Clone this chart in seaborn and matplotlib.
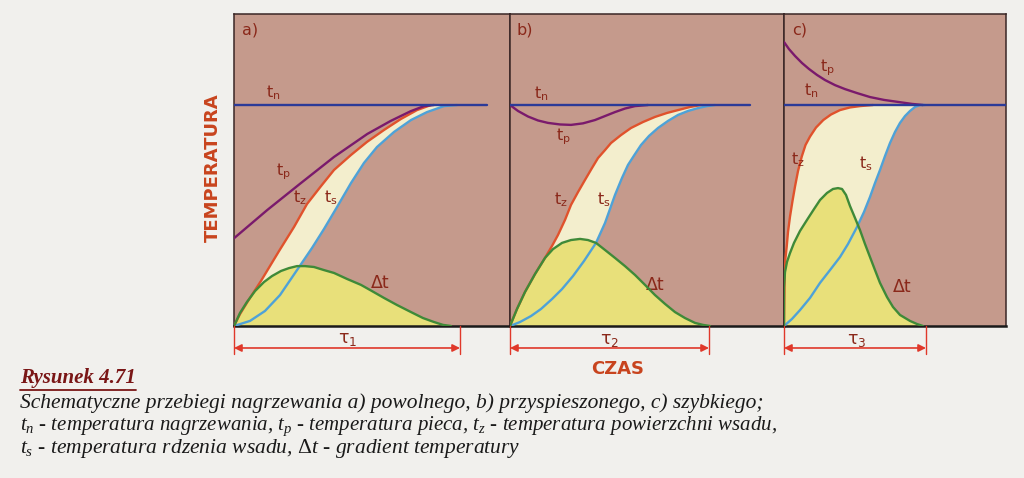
import numpy as np
import matplotlib
matplotlib.use("Agg")
import matplotlib.pyplot as plt
import seaborn as sns
import pandas as pd
from matplotlib.lines import Line2D

# ---------------- data (time in arbitrary units, temperature relative to t_n = 1) -------------
# panel a) slow heating
a_tn_time = [0.0, 25.3]
a_tn_temp = [1.0, 1.0]
a_tp_time = [0.0, 3.33, 6.67, 10.0, 13.33, 15.67, 17.67, 19.0, 20.0]
a_tp_temp = [0.397, 0.525, 0.646, 0.765, 0.869, 0.928, 0.972, 0.995, 1.0]
a_tz_time = [0.0, 0.6, 1.4, 2.7, 4.5, 6.0, 7.3, 8.7, 10.0, 11.7, 13.3, 15.0, 16.7, 18.3, 19.7]
a_tz_temp = [0.0, 0.054, 0.113, 0.204, 0.339, 0.448, 0.552, 0.633, 0.706, 0.774, 0.833, 0.887,
             0.937, 0.977, 1.0]
a_ts_time = [0.0, 1.6, 3.1, 4.6, 6.3, 7.8, 9.0, 10.3, 11.7, 13.0, 14.3, 16.0, 17.7, 19.3, 21.0, 22.3]
a_ts_temp = [0.0, 0.023, 0.068, 0.140, 0.253, 0.353, 0.439, 0.538, 0.647, 0.738, 0.810, 0.878,
             0.932, 0.968, 0.995, 1.0]
a_dt_time = [0.0, 0.6, 1.3, 2.1, 3.0, 3.8, 4.7, 5.5, 6.3, 7.1, 8.0, 9.0, 10.0, 11.3, 12.7, 13.8,
             15.0, 16.3, 17.7, 18.9, 20.0, 20.9, 21.7]
a_dt_temp = [0.0, 0.059, 0.109, 0.158, 0.199, 0.226, 0.249, 0.262, 0.271, 0.271, 0.267, 0.253,
             0.240, 0.213, 0.186, 0.158, 0.127, 0.095, 0.063, 0.036, 0.018, 0.005, 0.0]
a_tau = 22.6

# panel b) accelerated heating
b_tn_time = [0.0, 24.0]
b_tn_temp = [1.0, 1.0]
b_tp_time = [0.0, 0.8, 1.8, 2.8, 3.8, 5.0, 6.1, 7.3, 8.5, 9.5, 10.5, 11.5, 12.5, 13.8]
b_tp_temp = [1.0, 0.973, 0.948, 0.930, 0.919, 0.912, 0.910, 0.917, 0.932, 0.950, 0.968, 0.984,
             0.995, 1.0]
b_tz_time = [0.0, 0.7, 1.5, 2.5, 3.5, 4.2, 4.8, 5.5, 6.1, 6.8, 7.5, 8.2, 8.8, 9.5, 10.1, 11.1,
             12.1, 13.3, 14.5, 15.7, 16.8, 18.0, 19.1]
b_tz_temp = [0.0, 0.077, 0.154, 0.235, 0.308, 0.362, 0.412, 0.480, 0.548, 0.606, 0.661, 0.715,
             0.760, 0.796, 0.828, 0.864, 0.896, 0.923, 0.946, 0.964, 0.977, 0.991, 1.0]
b_ts_time = [0.0, 1.0, 2.1, 3.1, 4.2, 5.2, 6.3, 7.4, 8.6, 9.5, 10.5, 11.2, 11.8, 12.5, 13.1, 13.9,
             14.8, 15.8, 16.8, 17.8, 18.8, 19.7, 20.5]
b_ts_temp = [0.0, 0.018, 0.045, 0.077, 0.122, 0.167, 0.226, 0.294, 0.376, 0.466, 0.593, 0.670,
             0.729, 0.778, 0.819, 0.860, 0.896, 0.928, 0.955, 0.973, 0.986, 0.995, 1.0]
b_dt_time = [0.0, 0.7, 1.5, 2.5, 3.5, 4.3, 5.2, 6.1, 7.0, 7.8, 8.6, 9.5, 10.5, 11.5, 12.5, 13.5,
             14.5, 15.5, 16.5, 17.5, 18.5, 19.3, 20.0]
b_dt_temp = [0.0, 0.077, 0.154, 0.235, 0.308, 0.348, 0.376, 0.389, 0.394, 0.389, 0.376, 0.344,
             0.308, 0.271, 0.231, 0.186, 0.140, 0.100, 0.063, 0.036, 0.014, 0.005, 0.0]
b_tau = 19.9

# panel c) fast heating
c_tn_time = [0.0, 22.2]
c_tn_temp = [1.0, 1.0]
c_tp_time = [0.0, 0.5, 1.1, 1.8, 2.5, 3.3, 4.1, 5.1, 6.1, 7.3, 8.6, 10.0, 11.4, 12.8, 13.9]
c_tp_temp = [1.285, 1.253, 1.222, 1.190, 1.163, 1.136, 1.113, 1.090, 1.072, 1.054, 1.036, 1.023,
             1.014, 1.005, 1.0]
c_tz_time = [0.0, 0.03, 0.07, 0.15, 0.27, 0.4, 0.6, 0.85, 1.1, 1.4, 1.77, 2.15, 2.6, 3.2, 3.93,
             4.7, 5.6, 6.6, 7.6, 8.9]
c_tz_temp = [0.0, 0.118, 0.253, 0.308, 0.359, 0.425, 0.495, 0.566, 0.631, 0.701, 0.766, 0.819,
             0.857, 0.898, 0.932, 0.957, 0.977, 0.989, 0.995, 1.0]
c_ts_time = [0.0, 0.8, 1.6, 2.6, 3.6, 4.6, 5.6, 6.4, 7.3, 8.0, 8.6, 9.1, 9.6, 10.1, 10.6, 11.1,
             11.6, 12.1, 12.6, 13.1, 13.6, 14.1]
c_ts_temp = [0.0, 0.032, 0.072, 0.127, 0.195, 0.253, 0.312, 0.371, 0.448, 0.516, 0.584, 0.647,
             0.706, 0.769, 0.828, 0.878, 0.919, 0.950, 0.973, 0.991, 1.0, 1.0]
c_dt_time = [0.0, 0.0, 0.1, 0.3, 0.6, 1.0, 1.6, 2.3, 3.0, 3.6, 4.3, 4.9, 5.4, 5.8, 6.2, 6.6, 7.1,
             7.6, 8.1, 8.6, 9.1, 9.6, 10.3, 10.9, 11.6, 12.6, 13.3, 13.9]
c_dt_temp = [0.0, 0.176, 0.244, 0.290, 0.330, 0.376, 0.430, 0.480, 0.529, 0.570, 0.602, 0.620,
             0.624, 0.620, 0.593, 0.543, 0.489, 0.434, 0.371, 0.312, 0.253, 0.195, 0.131, 0.086,
             0.050, 0.023, 0.009, 0.0]
c_tau = 14.2

panel_names = ["a)", "b)", "c)"]
tau_labels = [r"$\mathregular{\tau_1}$", r"$\mathregular{\tau_2}$", r"$\mathregular{\tau_3}$"]
y_label = "TEMPERATURA"
x_label = "CZAS"
caption_title = "Rysunek 4.71"
caption_lines = [
    "Schematyczne przebiegi nagrzewania a) powolnego, b) przyspieszonego, c) szybkiego;",
    "$t_n$ - temperatura nagrzewania, $t_p$ - temperatura pieca, $t_z$ - temperatura powierzchni wsadu,",
    "$t_s$ - temperatura rdzenia wsadu, $\\mathit{\\Delta t}$ - gradient temperatury",
]

# ---------------- style ----------------
sns.set_theme(style="white")
plt.rcParams["font.family"] = ["DejaVu Sans"]
plt.rcParams["mathtext.fontset"] = "custom"
plt.rcParams["mathtext.rm"] = "Liberation Serif"
plt.rcParams["mathtext.it"] = "Liberation Serif:italic"
plt.rcParams["mathtext.bf"] = "Liberation Serif:bold"

PAGE = "#f1f0ed"
BG = "#c59a8c"
CREAM = "#f3eecd"
YELLOW = "#e8e07a"
C_TN = "#2b3a98"
C_TP = "#7a1a6c"
C_TZ = "#e0522c"
C_TS = "#4ea2d8"
C_DT = "#3f8a38"
TXT = "#8a281a"
RED = "#e0382a"
AXLAB = "#c8441e"

W, H = 1024, 478
fig = plt.figure(figsize=(W / 100, H / 100), dpi=100, facecolor=PAGE)

base_py, top_py = 326, 14
ymax = 1.4118

panels = [
    dict(left=234, width=276, xmax=27.6,
         tn=(a_tn_time, a_tn_temp), tp=(a_tp_time, a_tp_temp), tz=(a_tz_time, a_tz_temp),
         ts=(a_ts_time, a_ts_temp), dt=(a_dt_time, a_dt_temp), tau=a_tau,
         lab=dict(name=(0.8, 1.34), tn=(3.9, 1.058), tp=(4.9, 0.697), tz=(6.6, 0.579),
                  ts=(9.7, 0.579), dt=(14.6, 0.195), tau=(11.4, -0.06))),
    dict(left=510, width=274, xmax=27.4,
         tn=(b_tn_time, b_tn_temp), tp=(b_tp_time, b_tp_temp), tz=(b_tz_time, b_tz_temp),
         ts=(b_ts_time, b_ts_temp), dt=(b_dt_time, b_dt_temp), tau=b_tau,
         lab=dict(name=(0.7, 1.34), tn=(3.1, 1.05), tp=(5.3, 0.855), tz=(5.1, 0.57),
                  ts=(9.4, 0.57), dt=(14.5, 0.186), tau=(10.0, -0.063))),
    dict(left=784, width=222, xmax=22.2,
         tn=(c_tn_time, c_tn_temp), tp=(c_tp_time, c_tp_temp), tz=(c_tz_time, c_tz_temp),
         ts=(c_ts_time, c_ts_temp), dt=(c_dt_time, c_dt_temp), tau=c_tau,
         lab=dict(name=(0.8, 1.34), tn=(2.7, 1.063), tp=(4.3, 1.167), tz=(1.4, 0.751),
                  ts=(8.2, 0.733), dt=(11.8, 0.176), tau=(7.3, -0.063))),
]

def line(ax, xy, color, z):
    df = pd.DataFrame({"time": xy[0], "temp": xy[1]})
    sns.lineplot(data=df, x="time", y="temp", ax=ax, color=color, lw=1.7,
                 estimator=None, sort=False, zorder=z,
                 solid_joinstyle="round", solid_capstyle="round")

for i, p in enumerate(panels):
    ax = fig.add_axes([p["left"] / W, (H - base_py) / H, p["width"] / W, (base_py - top_py) / H])
    ax.set_facecolor(BG)
    ax.set_xlim(0, p["xmax"])
    ax.set_ylim(0, ymax)
    for s in ax.spines.values():
        s.set_color("#3a2626"); s.set_linewidth(1.1)
    ax.spines["bottom"].set_color("#1a1a1a"); ax.spines["bottom"].set_linewidth(1.8)

    tz_x, tz_y = np.asarray(p["tz"][0]), np.asarray(p["tz"][1])
    ts_x, ts_y = np.asarray(p["ts"][0]), np.asarray(p["ts"][1])
    ax.fill(np.concatenate([tz_x, ts_x[::-1]]), np.concatenate([tz_y, ts_y[::-1]]),
            color=CREAM, lw=0, zorder=1)
    ax.fill_between(p["dt"][0], p["dt"][1], 0, color=YELLOW, lw=0, zorder=2)

    line(ax, p["ts"], C_TS, 3)
    line(ax, p["tz"], C_TZ, 3)
    line(ax, p["dt"], C_DT, 4)
    line(ax, p["tp"], C_TP, 4)
    line(ax, p["tn"], C_TN, 5)
    ax.set_xlabel(""); ax.set_ylabel("")
    ax.set_xticks([]); ax.set_yticks([])

    L = p["lab"]
    ax.text(*L["name"], panel_names[i], color=TXT, fontsize=11.5, ha="left", va="center")
    ax.text(*L["tn"], r"$\mathregular{t_n}$", color=TXT, fontsize=11.5, ha="center", va="center")
    ax.text(*L["tp"], r"$\mathregular{t_p}$", color=TXT, fontsize=11.5, ha="center", va="center")
    ax.text(*L["tz"], r"$\mathregular{t_z}$", color=TXT, fontsize=11.5, ha="center", va="center")
    ax.text(*L["ts"], r"$\mathregular{t_s}$", color=TXT, fontsize=11.5, ha="center", va="center")
    ax.text(*L["dt"], "Δt", color=TXT, fontsize=12.5, ha="center", va="center")
    ax.text(*L["tau"], tau_labels[i], color=TXT, fontsize=12.5, ha="center", va="center",
            clip_on=False)

    # duration arrow below the panel
    ya = -0.0995
    ax.annotate("", xy=(p["tau"], ya), xytext=(0, ya), annotation_clip=False,
                arrowprops=dict(arrowstyle="<|-|>", color=RED, lw=1.2, mutation_scale=11,
                                shrinkA=0, shrinkB=0))
    for xv in (0, p["tau"]):
        ax.plot([xv, xv], [0, -0.125], color=RED, lw=1.0, clip_on=False, zorder=6)

fig.text(213 / W, 1 - 168 / H, y_label, rotation=90, color=AXLAB, fontsize=13,
         fontweight="bold", ha="center", va="center")
fig.text(618 / W, 1 - 369 / H, x_label, color=AXLAB, fontsize=13,
         fontweight="bold", ha="center", va="center")

title = fig.text(20 / W, 1 - 378 / H, caption_title, color="#7a1616", fontsize=15,
                 fontweight="bold", style="italic", family="Liberation Serif",
                 ha="left", va="center")
for txt, yy, fs in zip(caption_lines, [403, 426, 449], [15.5, 15.0, 15.5]):
    fig.text(20 / W, 1 - yy / H, txt, color="#1a1a1a", fontsize=fs, style="italic",
             family="Liberation Serif", ha="left", va="center")

fig.canvas.draw()
bb = title.get_window_extent()
fig.add_artist(Line2D([bb.x0 / W, bb.x1 / W], [(bb.y0 - 1.5) / H, (bb.y0 - 1.5) / H],
                      transform=fig.transFigure, color="#7a1616", lw=1.3))

fig.savefig("out.png", dpi=100, facecolor=PAGE)
